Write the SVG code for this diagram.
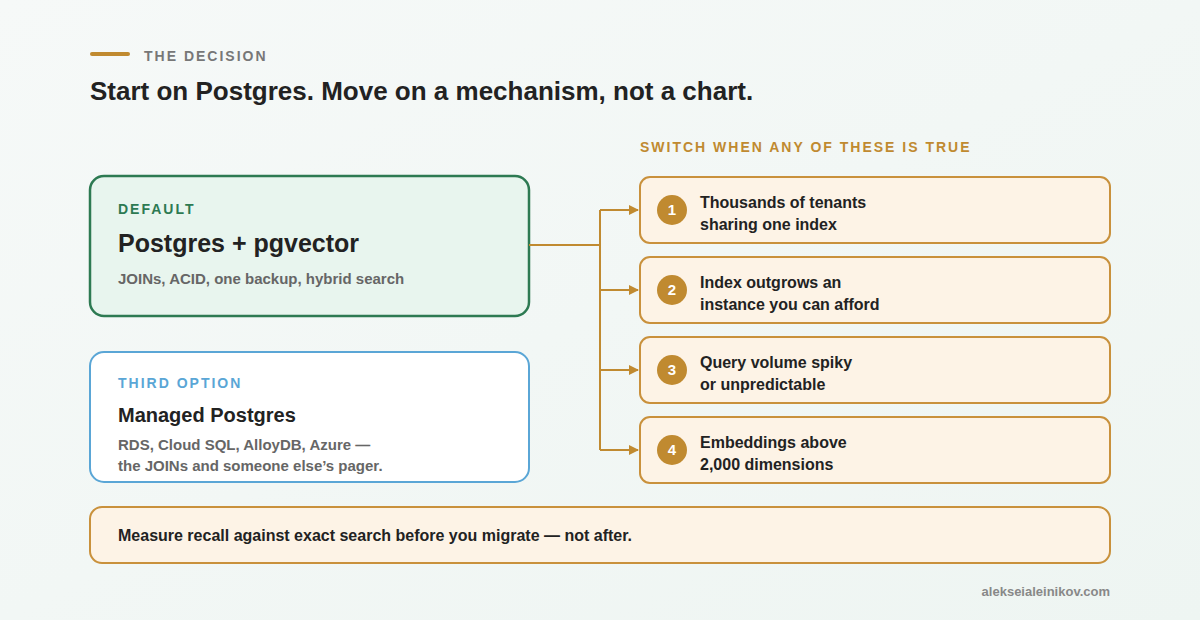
<svg xmlns="http://www.w3.org/2000/svg" width="1200" height="620" viewBox="0 0 1200 620">
<defs>
<linearGradient id="bg" x1="0" y1="0" x2="1" y2="1"><stop offset="0" stop-color="#f6f9f8"/><stop offset="1" stop-color="#eef5f2"/></linearGradient>
<marker id="ah" viewBox="0 0 10 10" refX="9" refY="5" markerWidth="10" markerHeight="10" markerUnits="userSpaceOnUse" orient="auto"><path d="M0,0 L10,5 L0,10 z" fill="#c08a30"/></marker>
<style>
text{font-family:"Liberation Sans",Arial,sans-serif}
.cap{font-size:14px;font-weight:700;letter-spacing:2px}
.cond{fill:#fdf3e6;stroke:#c9913c;stroke-width:2}
.ct{font-size:16px;font-weight:700;fill:#222}
.num{fill:#c08a30}
.nt{font-size:15px;font-weight:700;fill:#fff;text-anchor:middle}
.sub{font-size:15px;font-weight:700;fill:#666}
.conn{stroke:#c08a30;stroke-width:2;fill:none}
</style>
</defs>
<rect width="1200" height="620" fill="url(#bg)"/>
<rect x="90" y="52" width="40" height="4" rx="2" fill="#c08a30"/>
<text x="144" y="61" class="cap" fill="#777">THE DECISION</text>
<text x="90" y="100" font-size="26" font-weight="700" fill="#222">Start on Postgres. Move on a mechanism, not a chart.</text>
<text x="640" y="152" class="cap" fill="#c08a30">SWITCH WHEN ANY OF THESE IS TRUE</text>
<g id="default">
<rect x="90" y="176" width="439" height="140" rx="14" fill="#e8f5ee" stroke="#2d7a52" stroke-width="2.5"/>
<text x="118" y="214" class="cap" fill="#2d7a52">DEFAULT</text>
<text x="118" y="252" font-size="25" font-weight="700" fill="#222">Postgres + pgvector</text>
<text x="118" y="284" class="sub">JOINs, ACID, one backup, hybrid search</text>
</g>
<g id="third">
<rect x="90" y="352" width="439" height="130" rx="14" fill="#ffffff" stroke="#5aa6d6" stroke-width="2"/>
<text x="118" y="388" class="cap" fill="#5aa6d6">THIRD OPTION</text>
<text x="118" y="422" font-size="20" font-weight="700" fill="#222">Managed Postgres</text>
<text x="118" y="450" class="sub">RDS, Cloud SQL, AlloyDB, Azure —</text>
<text x="118" y="471" class="sub">the JOINs and someone else’s pager.</text>
</g>
<g id="connectors">
<path class="conn" d="M529,245 H600 M600,210 V450"/>
<path class="conn" d="M600,210 H638" marker-end="url(#ah)"/>
<path class="conn" d="M600,290 H638" marker-end="url(#ah)"/>
<path class="conn" d="M600,370 H638" marker-end="url(#ah)"/>
<path class="conn" d="M600,450 H638" marker-end="url(#ah)"/>
</g>
<g id="c1"><rect class="cond" x="640" y="177" width="470" height="66" rx="10"/><circle class="num" cx="672" cy="210" r="15"/><text class="nt" x="672" y="215">1</text><text class="ct" x="700" y="208">Thousands of tenants</text><text class="ct" x="700" y="230">sharing one index</text></g>
<g id="c2"><rect class="cond" x="640" y="257" width="470" height="66" rx="10"/><circle class="num" cx="672" cy="290" r="15"/><text class="nt" x="672" y="295">2</text><text class="ct" x="700" y="288">Index outgrows an</text><text class="ct" x="700" y="310">instance you can afford</text></g>
<g id="c3"><rect class="cond" x="640" y="337" width="470" height="66" rx="10"/><circle class="num" cx="672" cy="370" r="15"/><text class="nt" x="672" y="375">3</text><text class="ct" x="700" y="368">Query volume spiky</text><text class="ct" x="700" y="390">or unpredictable</text></g>
<g id="c4"><rect class="cond" x="640" y="417" width="470" height="66" rx="10"/><circle class="num" cx="672" cy="450" r="15"/><text class="nt" x="672" y="455">4</text><text class="ct" x="700" y="448">Embeddings above</text><text class="ct" x="700" y="470">2,000 dimensions</text></g>
<g id="note"><rect class="cond" x="90" y="507" width="1020" height="56" rx="12"/><text class="ct" x="118" y="541">Measure recall against exact search before you migrate — not after.</text></g>
<text x="1110" y="596" font-size="13" font-weight="700" fill="#888" text-anchor="end">alekseialeinikov.com</text>
</svg>
